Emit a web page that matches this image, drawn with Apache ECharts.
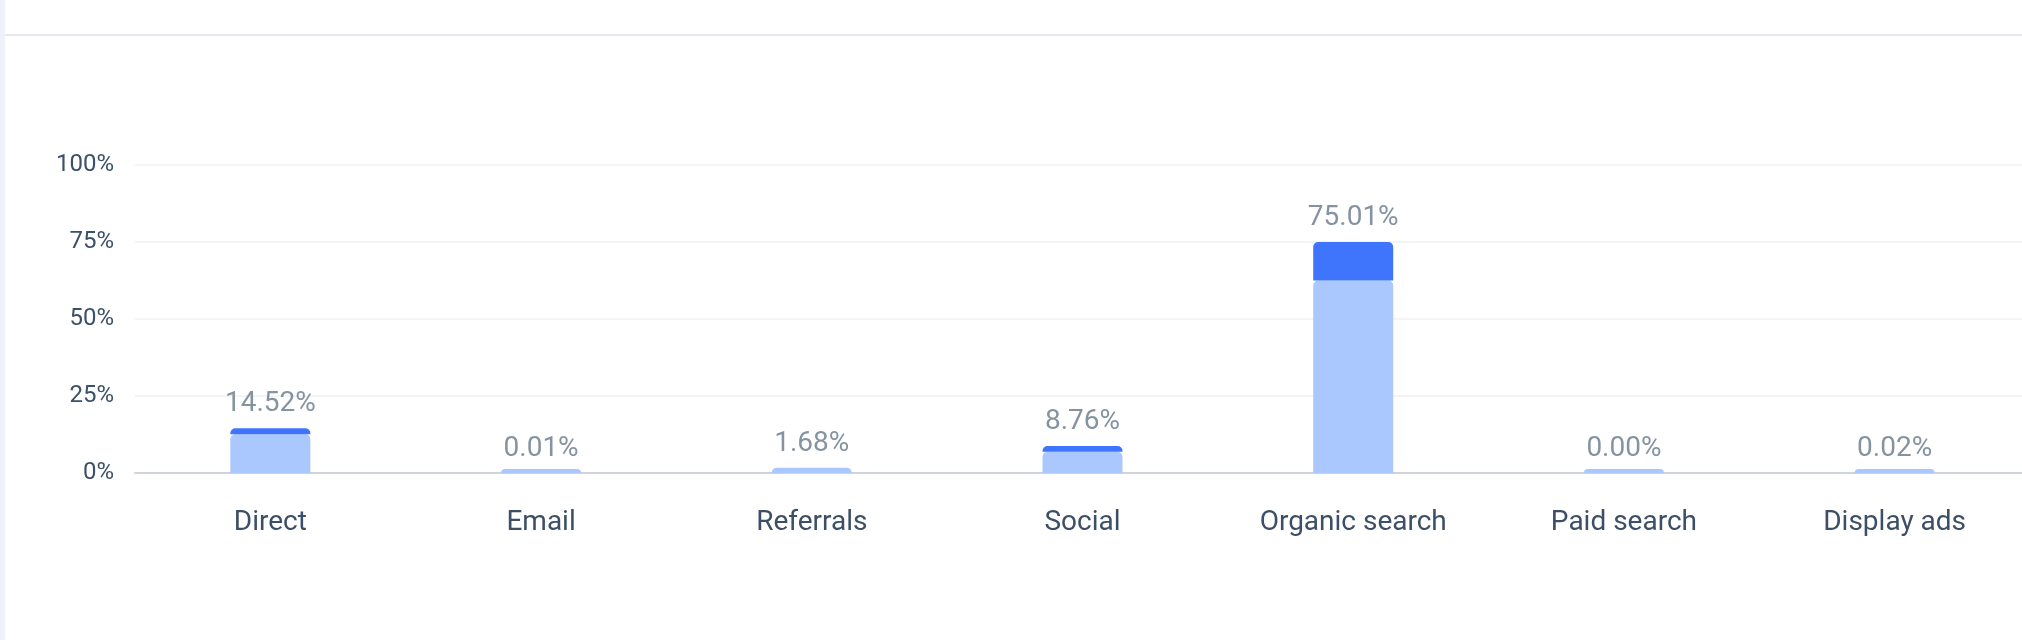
<!DOCTYPE html>
<html>
<head>
<meta charset="utf-8">
<script src="https://cdn.jsdelivr.net/npm/echarts@6/dist/echarts.min.js"></script>
<style>
  html, body { margin: 0; padding: 0; background: #fff; }
  #wrap {
    position: relative;
    width: 2022px;
    height: 640px;
    overflow: hidden;
    box-sizing: border-box;
    border-left: 5px solid #eef2f8;
  }
  #topLine {
    position: absolute;
    left: 0; right: 0; top: 34px;
    height: 2px;
    background: #e5e9ef;
  }
  /* chart runs a bit past the right edge, as in the screenshot */
  #chart { position: absolute; left: -5px; top: 0; width: 2030px; height: 640px; }
</style>
</head>
<body>
<div id="wrap">
  <div id="topLine"></div>
  <div id="chart"></div>
</div>
<script>
  // channels on the x axis
  const categories = ["Direct", "Email", "Referrals", "Social", "Organic search", "Paid search", "Display ads"];
  // total share shown above each bar
  const totals = [14.52, 0.01, 1.68, 8.76, 75.01, 0.0, 0.02];
  // light lower part / dark upper part of each stacked bar
  const lightPart = [12.6, 0.01, 1.68, 6.9, 62.5, 0.0, 0.02];
  const darkPart = [1.92, 0, 0, 1.86, 12.51, 0, 0];
  const yTicks = [0, 25, 50, 75, 100];

  let chart = echarts.init(document.getElementById("chart"));

  const fontFamily = "Roboto, 'Noto Sans', sans-serif";

  chart.setOption({
    animation: false,
    grid: { left: 135, right: 0, top: 165, bottom: 167 },
    xAxis: {
      type: "category",
      data: categories,
      axisTick: { show: false },
      axisLine: { lineStyle: { color: "#cfd3da", width: 2 } },
      axisLabel: {
        color: "#3c4f66",
        fontSize: 28,
        fontFamily: fontFamily,
        margin: 36,
      },
    },
    yAxis: {
      type: "value",
      min: yTicks[0],
      max: yTicks[yTicks.length - 1],
      interval: 25,
      axisLine: { show: false },
      axisTick: { show: false },
      splitLine: { lineStyle: { color: "#f3f4f6", width: 2 } },
      axisLabel: {
        color: "#3b5069",
        fontSize: 24,
        fontFamily: fontFamily,
        margin: 21,
        formatter: "{value}%",
      },
    },
    series: [
      {
        type: "bar",
        stack: "share",
        data: lightPart,
        barWidth: 80,
        barMinHeight: 4,
        itemStyle: { color: "#aac8fd", borderRadius: [5, 5, 0, 0] },
      },
      {
        type: "bar",
        stack: "share",
        data: darkPart,
        barWidth: 80,
        itemStyle: { color: "#3f74fd", borderRadius: [5, 5, 0, 0] },
      },
      {
        type: "scatter",
        data: totals,
        symbolSize: 0,
        silent: true,
        label: {
          show: true,
          position: "top",
          distance: 10,
          color: "#66788a",
          fontSize: 28,
          fontFamily: fontFamily,
          formatter: (p) => p.value.toFixed(2) + "%",
        },
      },
    ],
  });
</script>
</body>
</html>
